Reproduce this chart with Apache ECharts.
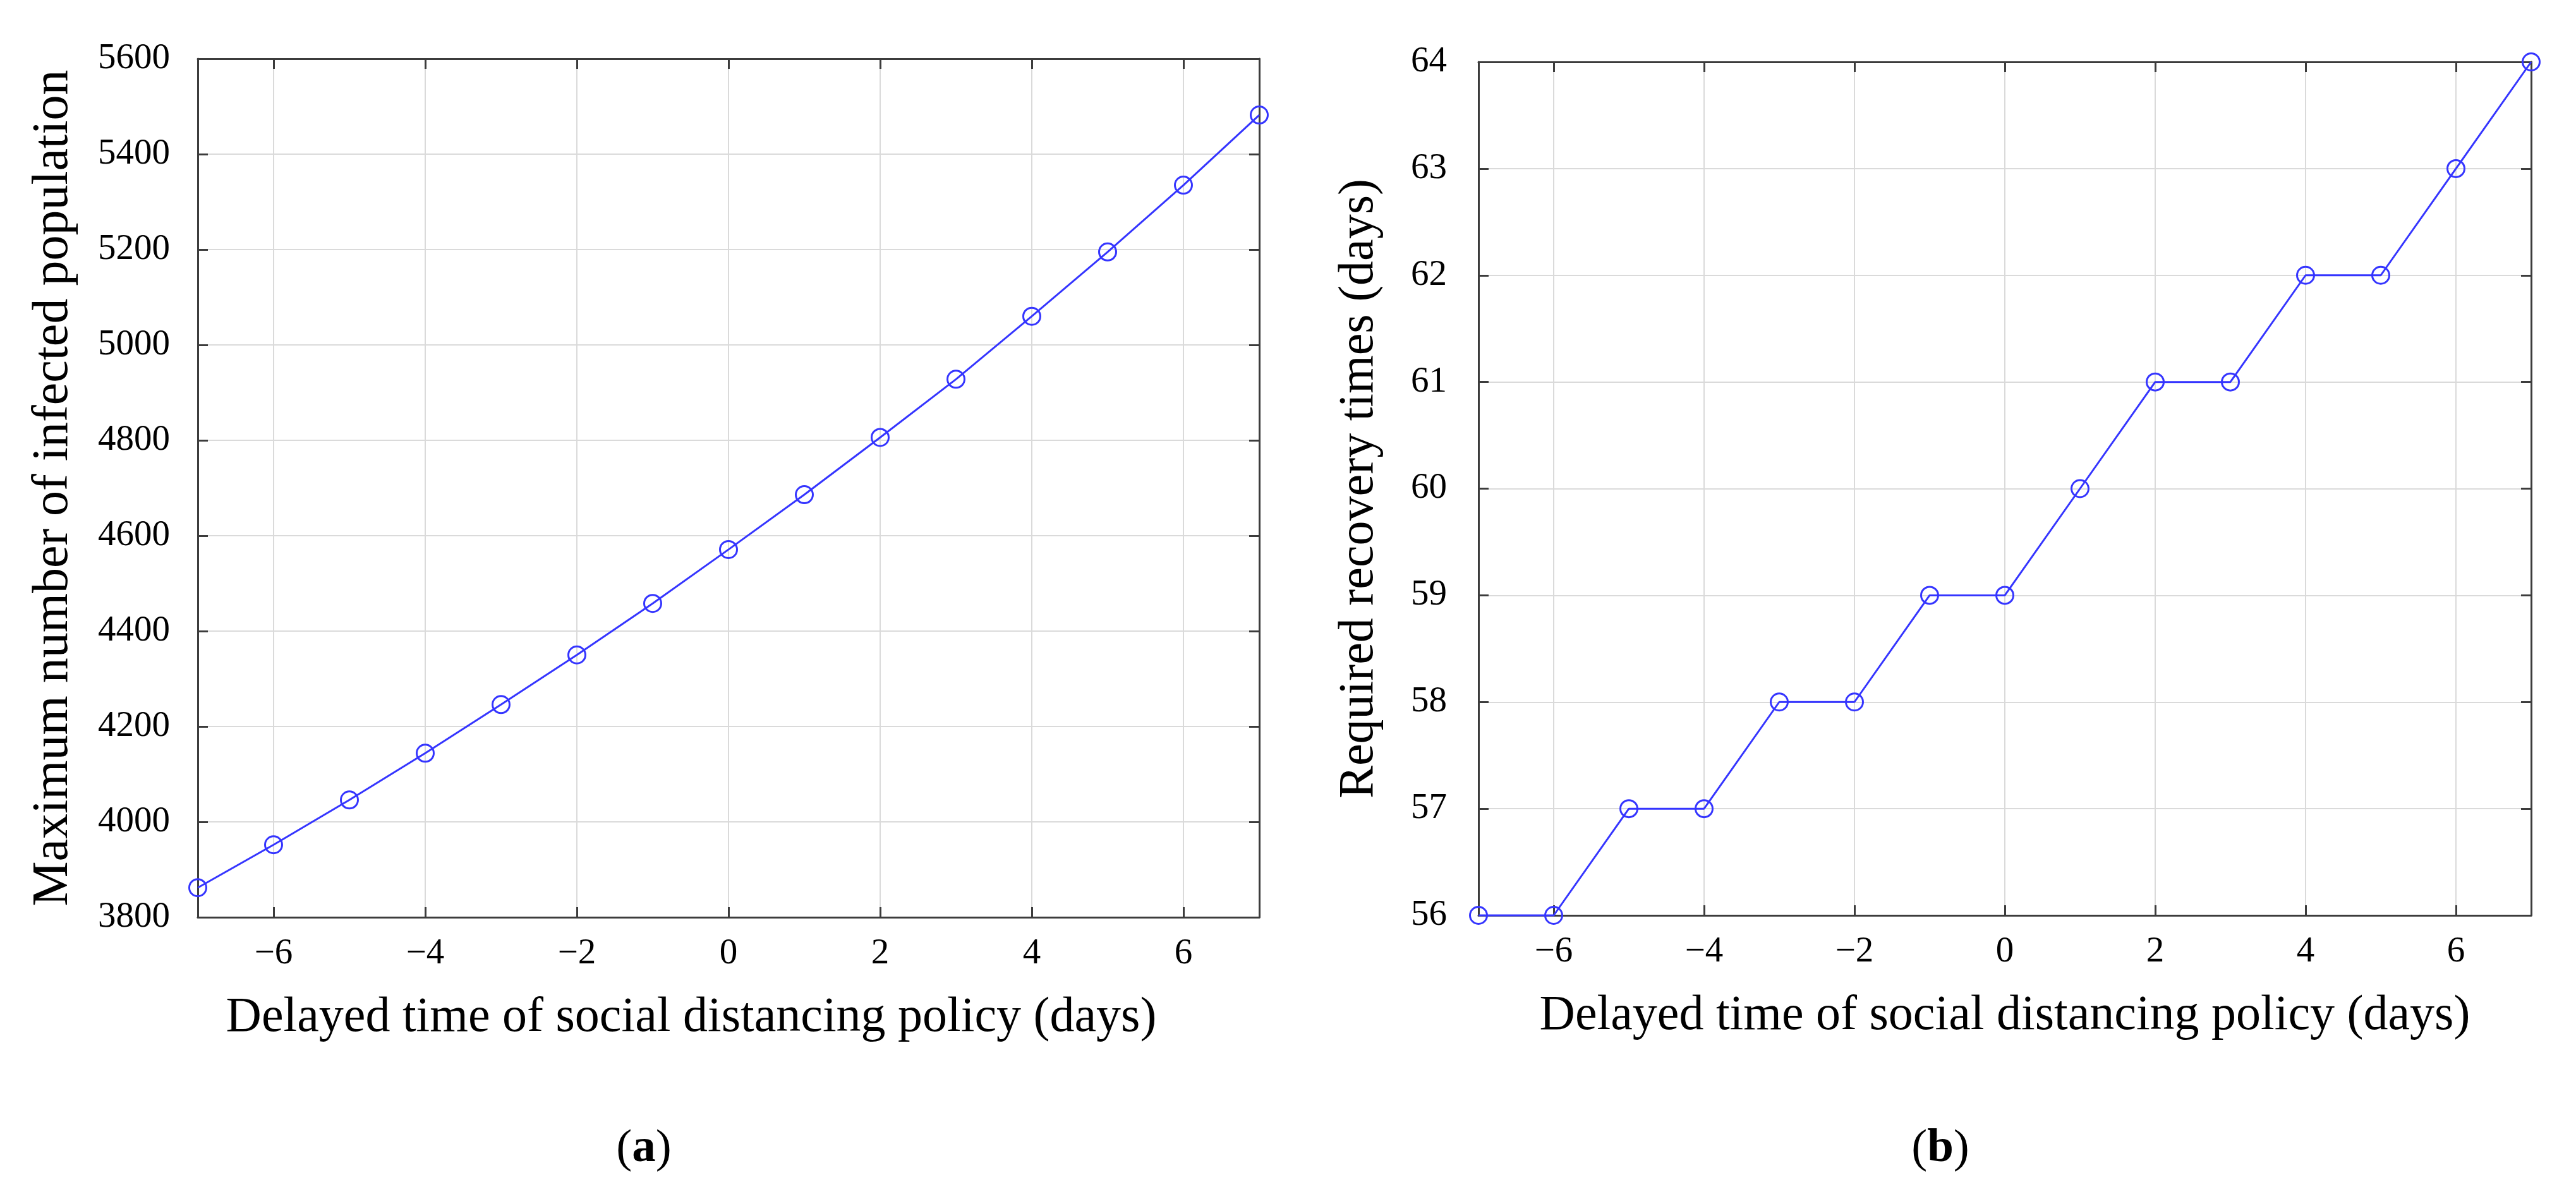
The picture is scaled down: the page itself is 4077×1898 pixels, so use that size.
<!DOCTYPE html>
<html>
<head>
<meta charset="utf-8">
<script src="https://cdn.jsdelivr.net/npm/echarts@6/dist/echarts.min.js"></script>
<style>
html,body{margin:0;padding:0;background:#fff;}
#chart{width:4077px;height:1898px;}
</style>
</head>
<body>
<div id="chart"></div>
<script>
// ---- data ----
const delays = [-7, -6, -5, -4, -3, -2, -1, 0, 1, 2, 3, 4, 5, 6, 7];
const infectedPeak = [3862, 3952, 4046, 4144, 4246, 4350, 4458, 4571, 4686, 4806, 4928, 5060, 5195, 5335, 5482];
const recoveryDays = [56, 56, 57, 57, 58, 58, 59, 59, 60, 61, 61, 62, 62, 63, 64];
const xTickValues = [-6, -4, -2, 0, 2, 4, 6];
const xAxisTitle = 'Delayed time of social distancing policy (days)';
const yTitleA = 'Maximum number of infected population';
const yTitleB = 'Required recovery times (days)';
const panelLabels = ['a', 'b'];

// ---- styling ----
const FONT = 'Liberation Serif';
const AXIS_COLOR = '#3c3c3c';
const GRID_COLOR = '#dadada';
const LINE_BLUE = '#3535ff';
const fmtMinus = v => String(v).replace('-', '\u2212');
const fmtPlain = v => String(v);

const chart = echarts.init(document.getElementById('chart'), null, {renderer: 'canvas'});

function xAxes(gridIndex, namePadding) {
  const base = {
    type: 'value', gridIndex: gridIndex, min: -7, max: 7,
    axisLine: {show: true, onZero: false, lineStyle: {color: AXIS_COLOR, width: 3}},
    axisTick: {show: true, inside: true, length: 16, customValues: xTickValues, lineStyle: {color: AXIS_COLOR, width: 3}}
  };
  return [
    Object.assign({}, base, {
      position: 'bottom',
      axisLabel: {show: true, customValues: xTickValues, formatter: fmtMinus, margin: 30,
        fontFamily: FONT, fontSize: 57, color: '#000'},
      splitLine: {show: true, lineStyle: {color: GRID_COLOR, width: 2}},
      name: xAxisTitle, nameLocation: 'middle', nameGap: 121,
      nameTextStyle: {fontFamily: FONT, fontSize: 78, color: '#000', padding: namePadding}
    }),
    Object.assign({}, base, {
      position: 'top',
      axisLabel: {show: false},
      splitLine: {show: false}
    })
  ];
}

function yAxes(gridIndex, min, max, interval, title, nameGap, labelMargin, titleSize) {
  const base = {
    type: 'value', gridIndex: gridIndex, min: min, max: max, interval: interval,
    axisLine: {show: true, onZero: false, lineStyle: {color: AXIS_COLOR, width: 3}},
    axisTick: {show: true, inside: true, length: 16, lineStyle: {color: AXIS_COLOR, width: 3}}
  };
  return [
    Object.assign({}, base, {
      position: 'left',
      axisLabel: {show: true, margin: labelMargin, formatter: fmtPlain, fontFamily: FONT, fontSize: 57, color: '#000'},
      splitLine: {show: true, lineStyle: {color: GRID_COLOR, width: 2}},
      name: title, nameLocation: 'middle', nameGap: nameGap, nameRotate: 90,
      nameTextStyle: {fontFamily: FONT, fontSize: titleSize, color: '#000'}
    }),
    Object.assign({}, base, {
      position: 'right',
      axisLabel: {show: false},
      splitLine: {show: false}
    })
  ];
}

function seriesFor(values, xi, yi) {
  return {
    type: 'line', xAxisIndex: xi, yAxisIndex: yi,
    data: delays.map((d, i) => [d, values[i]]),
    symbol: 'circle', symbolSize: 27,
    lineStyle: {color: LINE_BLUE, width: 3},
    itemStyle: {color: 'rgba(0,0,0,0)', borderColor: LINE_BLUE, borderWidth: 3},
    clip: false, animation: false, z: 5
  };
}

const option = {
  backgroundColor: '#ffffff',
  animation: false,
  grid: [
    {left: 313, top: 93, width: 1680, height: 1359},
    {left: 2340, top: 98, width: 1666, height: 1351}
  ],
  xAxis: [].concat(xAxes(0, [0, 118, 0, 0]), xAxes(1, [0, 0, 0, 0])),
  yAxis: [].concat(
    yAxes(0, 3800, 5600, 200, yTitleA, 188, 44, 80),
    yAxes(1, 56, 64, 1, yTitleB, 149, 50, 78)
  ),
  series: [
    seriesFor(infectedPeak, 0, 0),
    seriesFor(recoveryDays, 2, 2)
  ],
  graphic: [
    {type: 'text', x: 1019, y: 1819, style: {
      text: '{p|(}{b|' + panelLabels[0] + '}{p|)}', align: 'center', verticalAlign: 'middle',
      rich: {p: {fontFamily: FONT, fontSize: 75, fill: '#000'}, b: {fontFamily: FONT, fontSize: 75, fontWeight: 'bold', fill: '#000'}}
    }},
    {type: 'text', x: 3071, y: 1819, style: {
      text: '{p|(}{b|' + panelLabels[1] + '}{p|)}', align: 'center', verticalAlign: 'middle',
      rich: {p: {fontFamily: FONT, fontSize: 75, fill: '#000'}, b: {fontFamily: FONT, fontSize: 75, fontWeight: 'bold', fill: '#000'}}
    }}
  ]
};
chart.setOption(option);
</script>
</body>
</html>
